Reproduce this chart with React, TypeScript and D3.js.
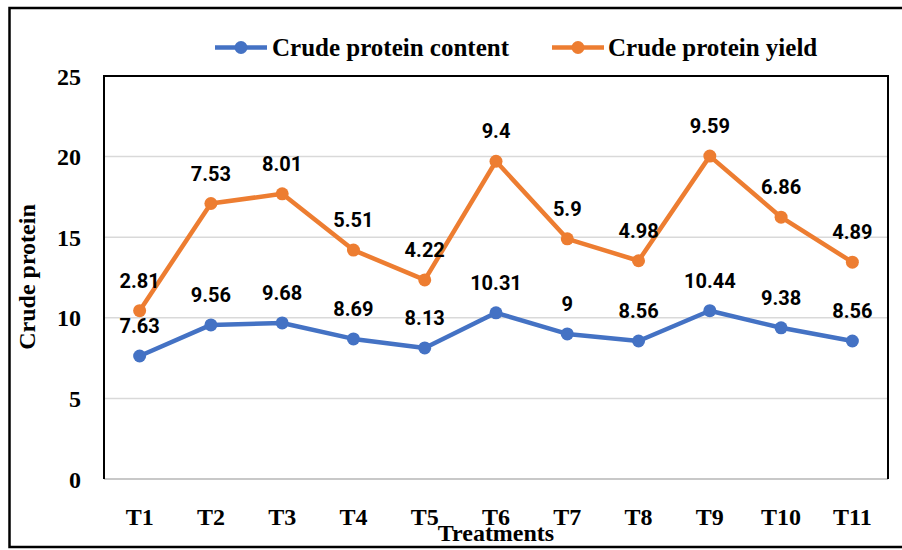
import React from "react";
import * as d3 from "d3";

const categories = ["T1", "T2", "T3", "T4", "T5", "T6", "T7", "T8", "T9", "T10", "T11"];
const contentValues = [7.63, 9.56, 9.68, 8.69, 8.13, 10.31, 9, 8.56, 10.44, 9.38, 8.56];
const yieldValues = [2.81, 7.53, 8.01, 5.51, 4.22, 9.4, 5.9, 4.98, 9.59, 6.86, 4.89];
const yTicks = [0, 5, 10, 15, 20, 25];
const seriesNames = ["Crude protein content", "Crude protein yield"];
const seriesColors = ["#4472C4", "#ED7D31"];

const W = 902;
const H = 550;
const plot = { left: 104, right: 888, top: 76, bottom: 479 };

export default function App() {
  const x = d3.scaleBand<string>().domain(categories).range([plot.left, plot.right]);
  const y = d3.scaleLinear().domain([0, 25]).range([plot.bottom, plot.top]);
  const cx = (c: string) => (x(c) as number) + x.bandwidth() / 2;

  const table = categories.map((c, i) => ({ cat: c, content: contentValues[i], yield: yieldValues[i] }));
  const stacked = d3.stack<any>().keys(["content", "yield"])(table);
  const rawSeries = [contentValues, yieldValues];

  const line = d3
    .line<any>()
    .x((d) => cx(d.data.cat))
    .y((d) => y(d[1]));

  const serif = "'Liberation Serif', 'Times New Roman', serif";
  const sans = "Roboto, 'Noto Sans', sans-serif";

  const legendItems = [
    { lx: 215, tx: 272 },
    { lx: 552, tx: 608 },
  ];

  return (
    <svg width={W} height={H} style={{ position: "absolute", left: 0, top: 0, background: "#fff" }}>
      <rect x={0} y={0} width={W} height={H} fill="#fff" />
      {/* outer frame */}
      <rect x={9.5} y={8} width={W + 10} height={539} fill="none" stroke="#000" strokeWidth={2.5} />

      {/* gridlines */}
      {yTicks.slice(1, 5).map((t) => (
        <line key={t} x1={plot.left} x2={plot.right} y1={y(t)} y2={y(t)} stroke="#d9d9d9" strokeWidth={1.5} />
      ))}
      {/* bottom axis */}
      <line x1={plot.left} x2={plot.right} y1={y(0)} y2={y(0)} stroke="#c8c8c8" strokeWidth={2} />
      {/* plot border */}
      <path
        d={`M${plot.left},${plot.bottom} V${plot.top} H${plot.right} V${plot.bottom}`}
        fill="none"
        stroke="#000"
        strokeWidth={2}
      />

      {/* y ticks */}
      {yTicks.map((t) => (
        <text key={t} x={81} y={y(t) + 8.5} textAnchor="end" fontFamily={serif} fontWeight="bold" fontSize={24} fill="#000">
          {t}
        </text>
      ))}
      {/* x ticks */}
      {categories.map((c) => (
        <text key={c} x={cx(c)} y={525} textAnchor="middle" fontFamily={serif} fontWeight="bold" fontSize={24} fill="#000">
          {c}
        </text>
      ))}

      {/* axis titles */}
      <text x={496} y={541} textAnchor="middle" fontFamily={serif} fontWeight="bold" fontSize={24} fill="#000">
        Treatments
      </text>
      <text
        transform={`translate(35,277) rotate(-90)`}
        textAnchor="middle"
        fontFamily={serif}
        fontWeight="bold"
        fontSize={24}
        fill="#000"
      >
        Crude protein
      </text>

      {/* series */}
      {stacked.map((s, si) => (
        <g key={si}>
          <path d={line(s as any) as string} fill="none" stroke={seriesColors[si]} strokeWidth={4.5} strokeLinejoin="round" />
          {s.map((d: any, i: number) => (
            <circle key={i} cx={cx(d.data.cat)} cy={y(d[1])} r={6.5} fill={seriesColors[si]} />
          ))}
          {s.map((d: any, i: number) => (
            <text
              key={"l" + i}
              x={cx(d.data.cat)}
              y={y(d[1]) - 23}
              textAnchor="middle"
              fontFamily={sans}
              fontWeight="bold"
              fontSize={20}
              fill="#000"
            >
              {rawSeries[si][i]}
            </text>
          ))}
        </g>
      ))}

      {/* legend */}
      {legendItems.map((it, i) => (
        <g key={i}>
          <line x1={it.lx} x2={it.lx + 52} y1={47.5} y2={47.5} stroke={seriesColors[i]} strokeWidth={4.5} />
          <circle cx={it.lx + 26} cy={47.5} r={6.5} fill={seriesColors[i]} />
          <text x={it.tx} y={56} fontFamily={serif} fontWeight="bold" fontSize={25} fill="#000">
            {seriesNames[i]}
          </text>
        </g>
      ))}
    </svg>
  );
}
